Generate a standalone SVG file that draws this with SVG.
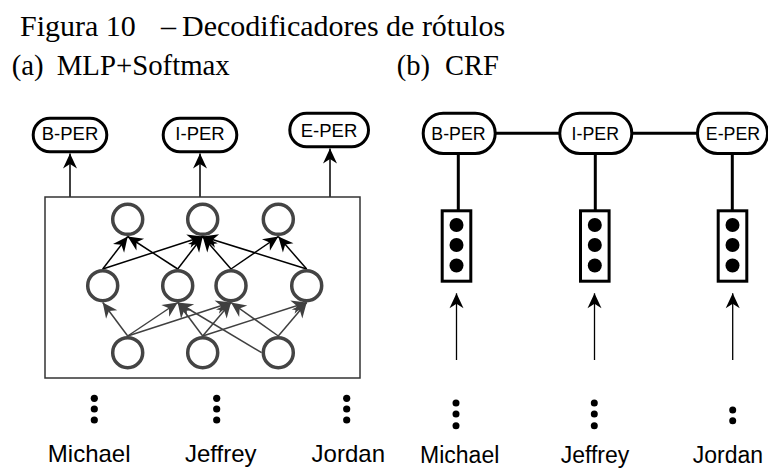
<svg xmlns="http://www.w3.org/2000/svg" width="768" height="469" viewBox="0 0 768 469">
  <style>
    .cap { font-family: "Liberation Serif", "Times New Roman", serif; fill: #000; }
    .lbl { font-family: "Liberation Sans", Arial, sans-serif; fill: #000; text-anchor: middle; }
    .tag { fill: #fff; stroke: #000; stroke-width: 3; }
    .neuron { fill: #fff; stroke: #444; stroke-width: 3.5; }
    .frame { fill: none; stroke: #333; stroke-width: 1.5; }
    .vec { fill: #fff; stroke: #000; stroke-width: 3; }
    .dot { fill: #000; }
    .e-top { stroke: #000; stroke-width: 1.5; fill: none; marker-end: url(#ahk); }
    .e-bot { stroke: #404040; stroke-width: 1.5; fill: none; marker-end: url(#ahg); }
    .e-out { stroke: #000; stroke-width: 1.5; fill: none; marker-end: url(#ahk); }
    .e-crf { stroke: #000; stroke-width: 3; fill: none; }
    .e-in { stroke: #000; stroke-width: 1.3; fill: none; marker-end: url(#ahk); }
  </style>
  <defs>
    <marker id="ahk" viewBox="-16 -8 17 16" refX="0" refY="0" markerWidth="17" markerHeight="16" markerUnits="userSpaceOnUse" orient="auto">
      <path d="M0,0 L-15,-7 L-10.5,0 L-15,7 Z" fill="#000"/>
    </marker>
    <marker id="ahg" viewBox="-16 -8 17 16" refX="0" refY="0" markerWidth="17" markerHeight="16" markerUnits="userSpaceOnUse" orient="auto">
      <path d="M0,0 L-15,-7 L-10.5,0 L-15,7 Z" fill="#404040"/>
    </marker>
  </defs>

  <!-- captions -->
  <g id="caption">
    <text class="cap" y="36" font-size="30"><tspan x="20">Figura 10</tspan><tspan x="161">–</tspan><tspan x="182">Decodificadores de rótulos</tspan></text>
    <text class="cap" y="75" font-size="28.8"><tspan x="11.7">(a)</tspan><tspan x="56.7">MLP+Softmax</tspan></text>
    <text class="cap" y="75" font-size="28.5"><tspan x="396.7">(b)</tspan><tspan x="445">CRF</tspan></text>
  </g>

  <!-- connectors -->
  <g id="connectors">
    <!-- (a) hidden layer to output layer -->
    <path class="e-top" d="M102.7,269 L127.7,236.5"/>
    <path class="e-top" d="M102.7,269 L202.7,236.5"/>
    <path class="e-top" d="M177.7,269 L127.7,236.5"/>
    <path class="e-top" d="M177.7,269 L202.7,236.5"/>
    <path class="e-top" d="M231,269 L202.7,236.5"/>
    <path class="e-top" d="M231,269 L278.3,236.5"/>
    <path class="e-top" d="M306.7,269 L202.7,236.5"/>
    <path class="e-top" d="M306.7,269 L278.3,236.5"/>
    <!-- (a) input layer to hidden layer -->
    <path class="e-bot" d="M127.7,336 L102.7,302.5"/>
    <path class="e-bot" d="M127.7,336 L177.7,302.5"/>
    <path class="e-bot" d="M127.7,336 L231,302.5"/>
    <path class="e-bot" d="M202.7,336 L177.7,302.5"/>
    <path class="e-bot" d="M202.7,336 L231,302.5"/>
    <path class="e-bot" d="M202.7,336 L306.7,302.5"/>
    <path class="e-bot" d="M261.6,352.7 L177.7,302.5"/>
    <path class="e-bot" d="M278.3,336 L231,302.5"/>
    <path class="e-bot" d="M278.3,336 L306.7,302.5"/>
    <!-- (a) network to tags -->
    <path class="e-out" d="M70,197 L70,153.5"/>
    <path class="e-out" d="M200,197 L200,153.5"/>
    <path class="e-out" d="M330,197 L330,148.5"/>
    <!-- (b) CRF chain -->
    <path class="e-crf" d="M495.2,133.3 L559.8,133.3"/>
    <path class="e-crf" d="M631.8,133.3 L697.5,133.3"/>
    <path class="e-crf" d="M458.3,153.5 L458.3,210.8"/>
    <path class="e-crf" d="M595.3,153.5 L595.3,210.8"/>
    <path class="e-crf" d="M732.3,153.5 L732.3,210.8"/>
    <!-- (b) words to vectors -->
    <path class="e-in" d="M456.5,360 L456.5,293.3"/>
    <path class="e-in" d="M594.5,360 L594.5,293.3"/>
    <path class="e-in" d="M732.7,360 L732.7,293.3"/>
  </g>

  <!-- (a) MLP + softmax -->
  <g id="mlp-frame"><rect class="frame" x="45" y="197" width="315" height="181"/></g>
  <g id="mlp-out">
    <circle class="neuron" cx="127.7" cy="219.3" r="15"/>
    <circle class="neuron" cx="202.7" cy="219.3" r="15"/>
    <circle class="neuron" cx="278.3" cy="219.3" r="15"/>
  </g>
  <g id="mlp-hidden">
    <circle class="neuron" cx="102.7" cy="285.7" r="15"/>
    <circle class="neuron" cx="177.7" cy="285.7" r="15"/>
    <circle class="neuron" cx="231" cy="285.7" r="15"/>
    <circle class="neuron" cx="306.7" cy="285.7" r="15"/>
  </g>
  <g id="mlp-in">
    <circle class="neuron" cx="127.7" cy="352.7" r="15"/>
    <circle class="neuron" cx="202.7" cy="352.7" r="15"/>
    <circle class="neuron" cx="278.3" cy="352.7" r="15"/>
  </g>

  <g id="a-b-per">
    <rect class="tag" x="33.2" y="118.2" width="73.6" height="33.6" rx="16.8"/>
    <text class="lbl" x="70" y="140" font-size="18.5">B-PER</text>
  </g>
  <g id="a-i-per">
    <rect class="tag" x="163.2" y="118.2" width="73.6" height="33.6" rx="16.8"/>
    <text class="lbl" x="200" y="140" font-size="18.5">I-PER</text>
  </g>
  <g id="a-e-per">
    <rect class="tag" x="289.8" y="113.2" width="78.7" height="33.6" rx="16.8"/>
    <text class="lbl" x="329" y="136.5" font-size="18.5">E-PER</text>
  </g>

  <g id="a-michael">
    <circle class="dot" cx="94.3" cy="398.3" r="3.6"/>
    <circle class="dot" cx="94.3" cy="409" r="3.6"/>
    <circle class="dot" cx="94.3" cy="420" r="3.6"/>
    <text class="lbl" x="89.2" y="461.7" font-size="24">Michael</text>
  </g>
  <g id="a-jeffrey">
    <circle class="dot" cx="216.7" cy="398.3" r="3.6"/>
    <circle class="dot" cx="216.7" cy="409" r="3.6"/>
    <circle class="dot" cx="216.7" cy="420" r="3.6"/>
    <text class="lbl" x="220.8" y="461.7" font-size="24">Jeffrey</text>
  </g>
  <g id="a-jordan">
    <circle class="dot" cx="346.7" cy="398.3" r="3.6"/>
    <circle class="dot" cx="346.7" cy="409" r="3.6"/>
    <circle class="dot" cx="346.7" cy="420" r="3.6"/>
    <text class="lbl" x="348.3" y="461.7" font-size="24">Jordan</text>
  </g>

  <!-- (b) CRF -->
  <g id="b-b-per">
    <rect class="tag" x="423.2" y="113.2" width="72" height="40.3" rx="20"/>
    <text class="lbl" x="458.5" y="140" font-size="17.8">B-PER</text>
  </g>
  <g id="b-i-per">
    <rect class="tag" x="559.8" y="113.2" width="72" height="40.3" rx="20"/>
    <text class="lbl" x="595.3" y="140" font-size="17.8">I-PER</text>
  </g>
  <g id="b-e-per">
    <rect class="tag" x="697.5" y="113.2" width="70" height="40.3" rx="20"/>
    <text class="lbl" x="733" y="140" font-size="17.8">E-PER</text>
  </g>

  <g id="b-vec-1">
    <rect class="vec" x="442.2" y="210.8" width="28.6" height="70.4"/>
    <circle class="dot" cx="456.5" cy="225" r="7"/>
    <circle class="dot" cx="456.5" cy="245" r="7"/>
    <circle class="dot" cx="456.5" cy="265.5" r="7"/>
  </g>
  <g id="b-vec-2">
    <rect class="vec" x="580.5" y="210.8" width="28.6" height="70.4"/>
    <circle class="dot" cx="594.8" cy="225" r="7"/>
    <circle class="dot" cx="594.8" cy="245" r="7"/>
    <circle class="dot" cx="594.8" cy="265.5" r="7"/>
  </g>
  <g id="b-vec-3">
    <rect class="vec" x="718.2" y="210.8" width="28.6" height="70.4"/>
    <circle class="dot" cx="732.5" cy="225" r="7"/>
    <circle class="dot" cx="732.5" cy="245" r="7"/>
    <circle class="dot" cx="732.5" cy="265.5" r="7"/>
  </g>

  <g id="b-michael">
    <circle class="dot" cx="456" cy="403" r="3.5"/>
    <circle class="dot" cx="456" cy="414" r="3.5"/>
    <circle class="dot" cx="456" cy="425.7" r="3.5"/>
    <text class="lbl" x="459.7" y="462.5" font-size="23">Michael</text>
  </g>
  <g id="b-jeffrey">
    <circle class="dot" cx="594.3" cy="403" r="3.5"/>
    <circle class="dot" cx="594.3" cy="414" r="3.5"/>
    <circle class="dot" cx="594.3" cy="425.7" r="3.5"/>
    <text class="lbl" x="595" y="462.5" font-size="23">Jeffrey</text>
  </g>
  <g id="b-jordan">
    <circle class="dot" cx="732.7" cy="410" r="3.5"/>
    <circle class="dot" cx="732.7" cy="420.7" r="3.5"/>
    <text class="lbl" x="728" y="462.5" font-size="23">Jordan</text>
  </g>
</svg>
